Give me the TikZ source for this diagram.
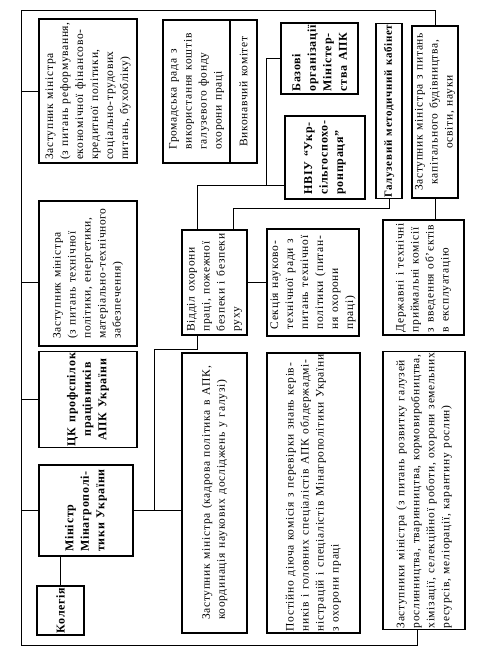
\documentclass[tikz,border=0pt]{standalone}
\usepackage{fontspec}
\setmainfont{Liberation Serif}[LetterSpace=6,WordSpace=1.3]
\usetikzlibrary{calc}
\begin{document}
\begin{tikzpicture}[x=1pt,y=-1pt,
  box/.style={draw, line width=1.2pt, rotate=90, inner sep=1.5pt, align=left,
    font=\fontsize{11.5}{15}\selectfont},
  bbox/.style={box, font=\fontsize{12}{15.5}\selectfont\bfseries},
  wire/.style={line width=1pt}]
\useasboundingbox (0,0) rectangle (482,669);
% column 1
\node[box, minimum width=144pt, minimum height=98pt] (zamA) at (88,91)
 {Заступник міністра\\(з питань реформування,\\економічної фінансово-\\кредитної політики,\\соціально-трудових\\питань, бухобліку)};
\node[box, minimum width=145pt, minimum height=98pt] (zamB) at (88,273.5)
 {Заступник міністра\\(з питань технічної\\політики, енергетики,\\матеріально-технічного\\забезпечення)};
\node[bbox, align=center, minimum width=93pt, minimum height=98pt] (ck) at (88,399.5)
 {ЦК профспілок\\працівників\\АПК України};
\node[bbox, minimum width=91pt, minimum height=94pt] (min) at (86,510.5)
 {Міністр\\Мінагрополі-\\тики України};
\node[bbox, align=center, minimum width=49pt, minimum height=47pt] (kol) at (60.5,610.5)
 {Колегія};
% column 2 top
\node[box, minimum width=143pt, minimum height=67pt] (hrom) at (196.5,91.5)
 {Громадська рада з\\використання коштів\\галузевого фонду\\охорони праці};
\node[box, minimum width=143pt, minimum height=27pt] (vyk) at (243.5,91.5)
 {Виконавчий комітет};
\node[bbox, minimum width=71pt, minimum height=77pt] (baz) at (319.5,58.5)
 {Базові\\організації\\Міністер-\\ства АПК};
\node[bbox, minimum width=83pt, minimum height=80pt] (nviu) at (325,157.5)
 {НВІУ “Укр-\\сільгоспохо-\\ронпраця”};
\node[bbox, font=\fontsize{11}{14}\selectfont\bfseries, minimum width=174pt, minimum height=26pt] (hal) at (389,111)
 {Галузевий методичний кабінет};
\node[box, align=center, minimum width=172pt, minimum height=46pt] (zamC) at (435,112)
 {Заступник міністра з питань\\капітального будівництва,\\освіти, науки};
% middle row
\node[box, minimum width=105pt, minimum height=65pt] (vid) at (214.5,282.5)
 {Відділ охорони\\праці, пожежної\\безпеки і безпеки\\руху};
\node[box, minimum width=107pt, minimum height=92pt] (sek) at (313,282.5)
 {Секція науково-\\технічної ради з\\питань технічної\\політики (питан-\\ня охорони\\праці)};
\node[box, minimum width=115pt, minimum height=81pt] (der) at (423.5,277.5)
 {Державні і технічні\\приймальні комісії\\з введення об’єктів\\в експлуатацію};
% bottom row
\node[box, minimum width=280pt, minimum height=65pt] (kadr) at (214.5,493)
 {Заступник міністра (кадрова політика в АПК,\\координація наукових досліджень у галузі)};
\node[box, minimum width=280pt, minimum height=93pt] (post) at (313.5,493)
 {Постійно діюча комісія з перевірки знань керів-\\ників і головних спеціалістів АПК облдержадмі-\\ністрацій і спеціалістів Мінагрополітики України\\з охорони праці};
\node[box, minimum width=275pt, minimum height=82pt] (zamD) at (424,490.5)
 {Заступники міністра (з питань розвитку галузей\\рослинництва, тваринництва, кормовиробництва,\\хімізації, селекційної роботи, охорони земельних\\ресурсів, меліорації, карантину рослин)};
% frame
\coordinate (TL) at (21,11);
\coordinate (BL) at (21,645);
\draw[wire] (zamC.east) -- (zamC.east |- TL) -- (TL) -- (BL) -- (BL -| 417,0) -- (zamD.west -| 417,0);
\draw[wire] (zamA.north) -- (zamA.north -| TL);
\draw[wire] (zamB.north |- 0,282) -- (TL |- 0,282);
\draw[wire] (ck.north) -- (ck.north -| TL);
\draw[wire] (min.north) -- (min.north -| TL);
\draw[wire] (kol.east) -- (kol.east |- min.west);
\draw[wire] (min.south) -- (min.south -| kadr.north);
\draw[wire] ($(min.south)+(21,0)$) |- (197,349) -- (vid.west -| 197,0);
\draw[wire] (vid.east -| 197,0) |- (nviu.north |- 0,185);
\draw[wire] (266,185) |- (baz.north);
\draw[wire] (vid.east -| 233,0) -- (233,208) -| (hal.west);
\draw[wire] (vid.south) -- (sek.north);
\draw[wire] (zamC.west) -- (zamC.west |- der.east);
\end{tikzpicture}
\end{document}
